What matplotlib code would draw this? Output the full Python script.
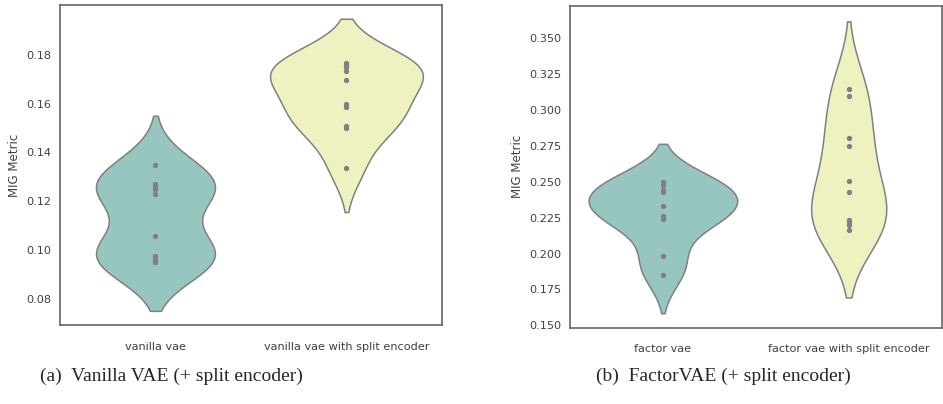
import numpy as np
import pandas as pd
import matplotlib
matplotlib.use("Agg")
import matplotlib.pyplot as plt
import seaborn as sns

# MIG scores
vanilla_vae = [0.1350, 0.1272, 0.1262, 0.1249, 0.1228, 0.1058, 0.0977, 0.0966, 0.0952, 0.0958]
vanilla_split = [0.1766, 0.1759, 0.1750, 0.1733, 0.1695, 0.1598, 0.1585, 0.1508, 0.1500, 0.1337]
factor_vae = [0.2495, 0.2477, 0.2445, 0.2426, 0.2328, 0.2264, 0.2254, 0.2241, 0.1985, 0.1853]
factor_split = [0.3145, 0.3099, 0.2804, 0.2746, 0.2507, 0.2431, 0.2231, 0.2217, 0.2199, 0.2166]

labels_a = ["vanilla vae", "vanilla vae with split encoder"]
labels_b = ["factor vae", "factor vae with split encoder"]
captions = ["(a)  Vanilla VAE (+ split encoder)", "(b)  FactorVAE (+ split encoder)"]
colors = ["#97c6be", "#eef2c0"]

sns.set_style("white")
plt.rcParams["font.family"] = ["DejaVu Sans"]


def long_form(names, groups):
    rows = []
    for name, vals in zip(names, groups):
        rows += [(name, v) for v in vals]
    return pd.DataFrame(rows, columns=["model", "MIG Metric"])


def plot_panel(ax, names, groups, ylim, yticks):
    df = long_form(names, groups)
    sns.violinplot(data=df, x="model", y="MIG Metric", hue="model",
                   order=names, palette=colors, saturation=1, inner="point",
                   density_norm="area", common_norm=True,
                   linecolor="#808080", linewidth=1.1, legend=False, ax=ax,
                   inner_kws=dict(color="#808080", s=8))
    ax.set_xlabel("")
    ax.set_ylabel("MIG Metric", fontsize=8.5, color="0.25")
    ax.set_ylim(*ylim)
    ax.set_yticks(yticks)
    ax.tick_params(axis="both", labelsize=8.1, colors="0.25", length=0, pad=6)
    ax.tick_params(axis="x", pad=12)
    for sp in ax.spines.values():
        sp.set_color("0.4")
        sp.set_linewidth(1.2)


fig = plt.figure(figsize=(9.43, 4.04), dpi=100)
ax1 = fig.add_axes([0.0636, 0.1955, 0.4051, 0.7921])
ax2 = fig.add_axes([0.6045, 0.1890, 0.3940, 0.7962])

plot_panel(ax1, labels_a, [vanilla_vae, vanilla_split],
           (0.0694, 0.2003), [0.08, 0.10, 0.12, 0.14, 0.16, 0.18])
plot_panel(ax2, labels_b, [factor_vae, factor_split],
           (0.1484, 0.3723), [0.150, 0.175, 0.200, 0.225, 0.250, 0.275, 0.300, 0.325, 0.350])
ax2.yaxis.set_major_formatter(matplotlib.ticker.FormatStrFormatter("%.3f"))

fig.text(0.182, 0.069, captions[0], ha="center", va="center",
         family="Liberation Serif", fontsize=14)
fig.text(0.767, 0.069, captions[1], ha="center", va="center",
         family="Liberation Serif", fontsize=14)

fig.savefig("out.png", dpi=100)
